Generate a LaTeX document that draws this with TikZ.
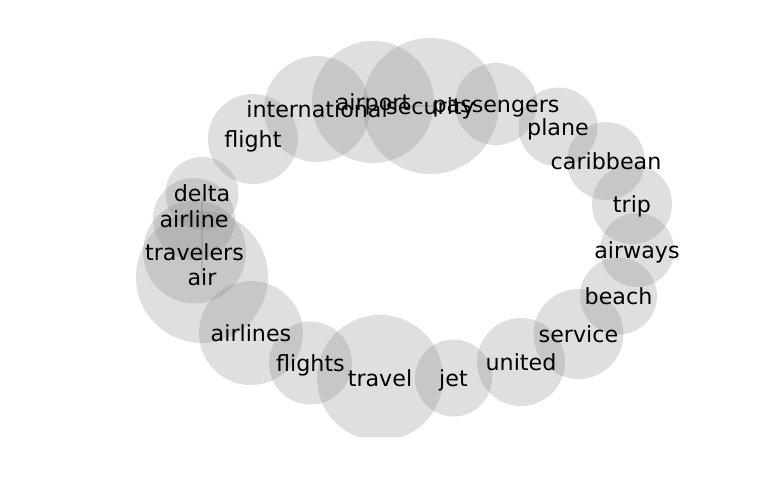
\documentclass[tikz,border=0pt]{standalone}
\usepackage{fontspec}
\setmainfont{DejaVu Sans}
\definecolor{bub}{RGB}{128,128,128}
\tikzset{
  bubble/.style={circle, fill=bub, fill opacity=0.25, draw=none, inner sep=0pt},
  word/.style={font=\fontsize{22.2}{26}\selectfont, text=black, inner sep=0pt, yshift=-2pt},
  seam/.style={draw=bub, draw opacity=0.3, line width=1.5pt}
}
\begin{document}
\begin{tikzpicture}[x=1pt,y=-1pt]
\useasboundingbox (0,0) rectangle (768,500);
\begin{scope}
\clip (0,0) rectangle (768,436);
\foreach \n/\x/\y/\r in {
  delta/202/193.5/36.5, airline/194/219/41, travelers/194.5/252/51.5,
  air/202/277/66, airlines/251/333/52, flights/310.5/363/41.5,
  travel/380/378/63, jet/453.5/378/38.5, united/521/362/44,
  service/578.5/334/45, beach/618.5/296/38.5, airways/637/250/37,
  trip/632/204/40, caribbean/606/161/39, plane/558/127/39.5,
  passengers/496/104/41, security/430.5/106/68, airport/373/102/61,
  international/317/109/53, flight/253/139/45}
{
  \node[bubble, minimum size=2*\r pt] (c-\n) at (\x,\y) {};
}
\end{scope}
\coordinate (s1) at (202,196);
\coordinate (s2) at (202,277);
\coordinate (s3) at (365,106);
\coordinate (s4) at (433,106);
\draw[seam] (s1) -- (s2);
\draw[seam] (s3) -- (s4);
\foreach \n in {delta, airline, travelers, air, airlines, flights, travel, jet,
  united, service, beach, airways, trip, caribbean, plane, passengers,
  security, airport, international, flight}
{
  \node[word] (t-\n) at (c-\n.center) {\vphantom{lp}\n};
}
\end{tikzpicture}
\end{document}
